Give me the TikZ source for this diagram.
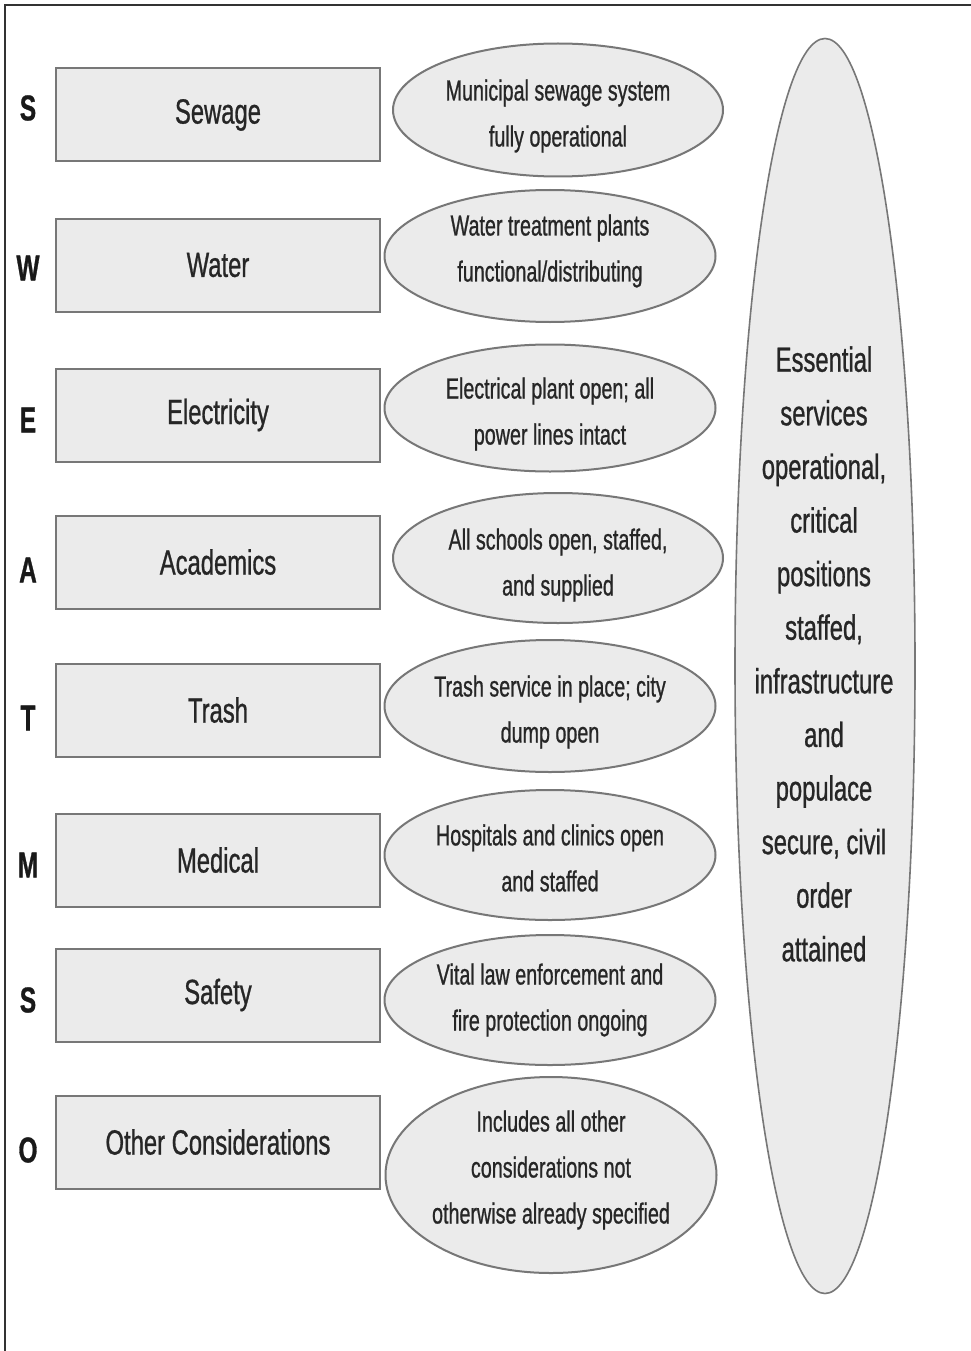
\documentclass[tikz,border=0pt]{standalone}
\usepackage{fontspec}
\setmainfont{Liberation Sans}[FakeStretch=0.68, FakeBold=0.8]
\usetikzlibrary{shapes.geometric}
\definecolor{fillgray}{HTML}{EBEBEB}
\definecolor{edgegray}{HTML}{777777}
\definecolor{framegray}{HTML}{333333}
\tikzset{
  letter/.style={font=\fontsize{36}{40}\selectfont\bfseries, text=black!90, inner sep=0pt},
  svcbox/.style={draw=edgegray, line width=2pt, fill=fillgray, minimum width=324pt,
    minimum height=93pt, inner sep=0pt, font=\fontsize{35}{40}\selectfont, text=black!85},
  goal/.style={ellipse, draw=edgegray, line width=2pt, fill=fillgray, inner sep=0pt},
  goaltext/.style={align=center, font=\fontsize{29}{46}\selectfont, text=black!85, inner sep=0pt},
  endstate/.style={ellipse, draw=edgegray, line width=1.6pt, fill=fillgray, inner sep=0pt,
    minimum width=180pt, minimum height=1255pt}
}
\begin{document}
\begin{tikzpicture}[x=1pt,y=-1pt]
\useasboundingbox (0,0) rectangle (971,1351);
\fill[white] (0,0) rectangle (971,1351);
% outer frame (top and left edges)
\draw[framegray, line width=2.2pt] (5,1351) -- (5,5) -- (971,5);

% service categories
\node[svcbox] (b1) at (218,115) {Sewage};
\node[svcbox] (b2) at (218,265) {Water};
\node[svcbox] (b3) at (218,415) {Electricity};
\node[svcbox] (b4) at (218,562) {Academics};
\node[svcbox] (b5) at (218,710) {Trash};
\node[svcbox] (b6) at (218,860) {Medical};
\node[svcbox] (b7) at (218,995) {Safety};
\node[svcbox] (b8) at (218,1142) {Other Considerations};

% acronym letters
\node[letter] (l1) at (28,108) {S};
\node[letter] (l2) at (28,268) {W};
\node[letter] (l3) at (28,420) {E};
\node[letter] (l4) at (28,570) {A};
\node[letter] (l5) at (28,718) {T};
\node[letter] (l6) at (28,865) {M};
\node[letter] (l7) at (28,1000) {S};
\node[letter] (l8) at (28,1150) {O};

% conditions per service
\node[goal, minimum width=330pt, minimum height=133pt] (g1) at (558,110) {};
\node[goal, minimum width=331pt, minimum height=132pt] (g2) at (550,256) {};
\node[goal, minimum width=331pt, minimum height=127pt] (g3) at (550,408) {};
\node[goal, minimum width=330pt, minimum height=130pt] (g4) at (558,558) {};
\node[goal, minimum width=331pt, minimum height=132pt] (g5) at (550,706) {};
\node[goal, minimum width=331pt, minimum height=130pt] (g6) at (550,855) {};
\node[goal, minimum width=331pt, minimum height=130pt] (g7) at (550,1000) {};
\node[goal, minimum width=331pt, minimum height=196pt] (g8) at (551,1175) {};

\node[goaltext] (t1) at ([yshift=-6pt]g1.center) {Municipal sewage system\\fully operational};
\node[goaltext] (t2) at ([yshift=5pt]g2.center) {Water treatment plants\\functional/distributing};
\node[goaltext] (t3) at ([yshift=-6pt]g3.center) {Electrical plant open; all\\power lines intact};
\node[goaltext] (t4) at ([yshift=-7pt]g4.center) {All schools open, staffed,\\and supplied};
\node[goaltext] (t5) at ([yshift=-6pt]g5.center) {Trash service in place; city\\dump open};
\node[goaltext] (t6) at ([yshift=-3pt]g6.center) {Hospitals and clinics open\\and staffed};
\node[goaltext] (t7) at (g7.center) {Vital law enforcement and\\fire protection ongoing};
\node[goaltext] (t8) at ([yshift=5pt]g8.center) {Includes all other\\considerations not\\otherwise already specified};

% overall end state
\node[endstate] (es) at (825,666) {};
\node[align=center, font=\fontsize{35}{53.6}\selectfont, text=black!85] (est) at (824,654)
  {Essential\\services\\operational,\\critical\\positions\\staffed,\\infrastructure\\and\\populace\\secure, civil\\order\\attained};
\end{tikzpicture}
\end{document}
